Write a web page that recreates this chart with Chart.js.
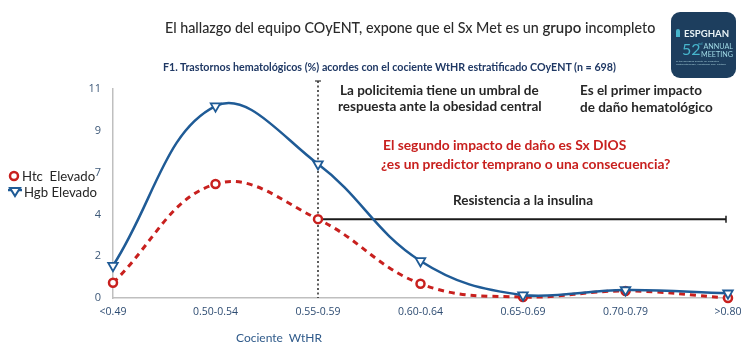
<!DOCTYPE html>
<html>
<head>
<meta charset="utf-8">
<script src="https://cdn.jsdelivr.net/npm/chart.js@4"></script>
<style>
  html, body { margin:0; padding:0; background:#fff; }
  #wrap { position:relative; width:750px; height:355px; overflow:hidden; font-family: Lato, "Open Sans", sans-serif; }
  canvas { position:absolute; left:0; top:0; }
  .t { position:absolute; white-space:nowrap; line-height:1; }
  #title { left:165px; top:20px; font-size:14.3px; color:#2b2b2b; font-weight:500; }
  #sub { left:163px; top:62px; font-size:10.7px; color:#1f3864; font-weight:700; }
  .ann { font-size:13.5px; color:#262626; font-weight:700; }
  .red { font-size:13.8px; color:#c8201e; font-weight:700; }
  #xt { left:236px; top:332px; font-size:12px; color:#2f5a8a; }
  #legend { position:absolute; left:8px; top:168px; font-size:13.2px; color:#262626; }
  #legend .row { height:16px; display:flex; align-items:center; white-space:nowrap; }
  #legend svg { margin-right:2px; }
  #logo { position:absolute; left:671px; top:12px; width:65px; height:66px; background:#1d3e5e; border-radius:9px; overflow:hidden; }
  #logo .e { position:absolute; left:13px; top:17px; font-size:9.6px; font-weight:700; color:#e8f2f5; line-height:1; }
  #logo .n { position:absolute; left:11px; top:29px; font-size:16px; color:#47b5cc; line-height:1; }
  #logo .s { position:absolute; left:27px; top:30px; font-size:4px; color:#47b5cc; line-height:1; }
  #logo .a { position:absolute; right:3px; top:31px; font-size:7.2px; color:#9fd8e4; line-height:7.5px; text-align:right; }
  #logo .m { position:absolute; left:5px; top:48px; font-size:2.6px; color:#9fc6d2; line-height:3.2px; width:56px; white-space:normal; }
  #logo .f { position:absolute; left:5px; top:17px; width:4px; height:8px; background:#47b5cc; border-radius:2px 2px 0 0; }
</style>
</head>
<body>
<div id="wrap">
  <canvas id="c" width="750" height="355"></canvas>
  <div id="title" class="t">El hallazgo del equipo COyENT, expone que el Sx Met es un <span style="font-size:15px;font-weight:600">grupo</span> incompleto</div>
  <div id="sub" class="t">F1. Trastornos hematológicos (%) acordes con el cociente WtHR estratificado COyENT (n = 698)</div>
  <div class="t ann" style="left:340px;top:84px;">La policitemia tiene un umbral de</div>
  <div class="t ann" style="left:338px;top:100px;">respuesta ante la obesidad central</div>
  <div class="t ann" style="left:580px;top:84px;">Es el primer impacto</div>
  <div class="t ann" style="left:580px;top:101px;">de daño hematológico</div>
  <div class="t red" style="left:383px;top:138px;">El segundo impacto de daño es Sx DIOS</div>
  <div class="t red" style="left:381px;top:157px;">¿es un predictor temprano o una consecuencia?</div>
  <div class="t ann" style="left:453px;top:194px;">Resistencia a la insulina</div>
  <div id="xt" class="t">Cociente&nbsp; WtHR</div>
  <div id="legend">
    <div class="row"><svg width="12" height="12" viewBox="0 0 12 12"><circle cx="6" cy="6" r="4" fill="#fff" stroke="#c8201e" stroke-width="2.5"/></svg>Htc&nbsp; Elevado</div>
    <div class="row"><svg width="14" height="12" viewBox="0 0 14 12"><line x1="0" y1="4" x2="14" y2="4" stroke="#1f5b96" stroke-width="2.5"/><polygon points="2,2 12,2 7,10" fill="#fff" stroke="#1f5b96" stroke-width="2"/></svg>Hgb Elevado</div>
  </div>
  <div id="logo">
    <div class="f"></div>
    <div class="e">ESPGHAN</div>
    <div class="n">52</div>
    <div class="s">nd</div>
    <div class="a">ANNUAL<br>MEETING</div>
    <div class="m">of the European Society for Paediatric Gastroenterology, Hepatology and Nutrition</div>
  </div>
</div>
<script>
const categories = ['<0.49', '0.50-0.54', '0.55-0.59', '0.60-0.64', '0.65-0.69', '0.70-0.79', '>0.80'];
const htcElevado = [0.8, 6.0, 4.15, 0.75, 0.05, 0.37, 0.0];
const hgbElevado = [1.7, 10.1, 7.05, 1.95, 0.15, 0.42, 0.25];
const yTickValues = [0, 2.2, 4.4, 6.6, 8.8, 11];
const yTickLabels = ['0', '2', '4', '7', '9', '11'];
const thresholdIndex = 2;

const annotationLines = {
  id: 'annotationLines',
  beforeDatasetsDraw(chart) {
    const ctx = chart.ctx, x = chart.scales.x, y = chart.scales.y, area = chart.chartArea;
    const vx = x.getPixelForValue(thresholdIndex);
    const top = area.top - 8;
    ctx.save();
    ctx.strokeStyle = '#333';
    ctx.lineWidth = 1.6;
    ctx.setLineDash([2, 2.5]);
    ctx.beginPath(); ctx.moveTo(vx, top); ctx.lineTo(vx, area.bottom); ctx.stroke();
    ctx.setLineDash([]);
    ctx.lineWidth = 1.2;
    ctx.beginPath(); ctx.moveTo(vx - 3, top); ctx.lineTo(vx + 3, top); ctx.stroke();
    const hy = y.getPixelForValue(htcElevado[thresholdIndex]);
    const ex = x.getPixelForValue(categories.length - 1) - 2;
    ctx.strokeStyle = '#1a1a1a';
    ctx.lineWidth = 2;
    ctx.beginPath(); ctx.moveTo(vx, hy); ctx.lineTo(ex, hy); ctx.stroke();
    ctx.lineWidth = 1.5;
    ctx.beginPath(); ctx.moveTo(ex, hy - 3.5); ctx.lineTo(ex, hy + 3.5); ctx.stroke();
    ctx.restore();
  }
};

new Chart(document.getElementById('c'), {
  type: 'line',
  data: {
    labels: categories,
    datasets: [
      {
        label: 'Hgb Elevado',
        data: hgbElevado,
        borderColor: '#1f5b96',
        borderWidth: 2.5,
        tension: 0.4,
        pointStyle: 'triangle',
        rotation: 180,
        pointRadius: 5.5,
        pointBorderWidth: 1.8,
        pointBackgroundColor: '#fff',
        pointBorderColor: '#1f5b96',
        clip: false
      },
      {
        label: 'Htc Elevado',
        data: htcElevado,
        borderColor: '#c8201e',
        borderWidth: 3,
        borderDash: [6, 5],
        tension: 0.4,
        pointStyle: 'circle',
        pointRadius: 4,
        pointBorderWidth: 2.5,
        pointBackgroundColor: '#fff',
        pointBorderColor: '#c8201e',
        clip: false
      }
    ]
  },
  options: {
    responsive: false,
    animation: false,
    devicePixelRatio: 1,
    layout: { padding: { top: 89, right: 22, left: 0, bottom: 0 } },
    plugins: { legend: { display: false }, tooltip: { enabled: false } },
    scales: {
      x: {
        type: 'category',
        offset: false,
        grid: { display: false, drawTicks: false },
        border: { display: true, color: '#bfbfbf', width: 1.5 },
        ticks: { color: '#2e4c72', font: { family: 'Open Sans', size: 10.5 }, padding: 8, maxRotation: 0, autoSkip: false },
        afterFit(s) { s.height = 57; }
      },
      y: {
        min: 0,
        max: 11,
        grid: { display: false, drawTicks: false },
        border: { display: true, color: '#bfbfbf', width: 1.5 },
        afterBuildTicks(s) { s.ticks = yTickValues.map(v => ({ value: v })); },
        ticks: {
          color: '#3d5878',
          font: { family: 'Open Sans', size: 11 },
          padding: 12,
          callback(v) { const i = yTickValues.indexOf(v); return i >= 0 ? yTickLabels[i] : ''; }
        },
        afterFit(s) { s.width = 113; }
      }
    }
  },
  plugins: [annotationLines]
});
</script>
</body>
</html>
